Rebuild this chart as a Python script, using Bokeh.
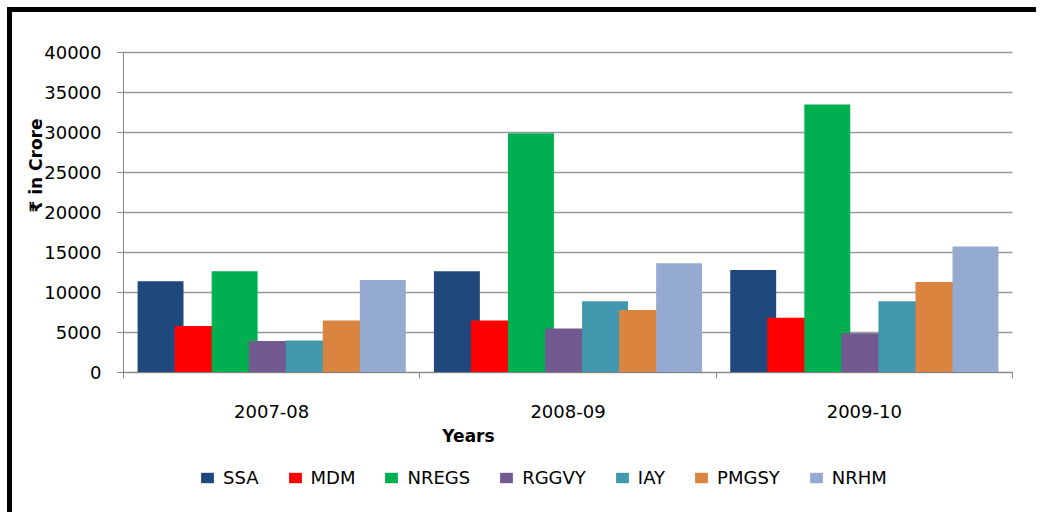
import math
from bokeh.plotting import figure
from bokeh.models import (ColumnDataSource, Range1d, LinearAxis,
                          FixedTicker, Label, Legend, LegendItem)
from bokeh.transform import dodge
from bokeh.embed import file_html
from bokeh.resources import INLINE

# ---- data ----
years = ["2007-08", "2008-09", "2009-10"]
SSA = [11400, 12650, 12800]
MDM = [5800, 6500, 6850]
NREGS = [12650, 29900, 33500]
RGGVY = [3950, 5500, 4900]
IAY = [4000, 8900, 8900]
PMGSY = [6500, 7800, 11300]
NRHM = [11550, 13650, 15750]
series_names = ["SSA", "MDM", "NREGS", "RGGVY", "IAY", "PMGSY", "NRHM"]
y_ticks = [0, 5000, 10000, 15000, 20000, 25000, 30000, 35000, 40000]

colors = ["#1F497D", "#FF0000", "#00B050", "#725990", "#4298AF", "#DA8440", "#95AAD0"]

FONT = "DejaVu Sans"
GRID = "#9a9a9a"
AX = "#868686"

# ---- layout (page pixels) ----
W, H = 1029, 505
OX, OY = 12, 12                      # canvas origin on the page (margin + border)
PL, PR, PT, PB = 123, 1012, 52, 372  # plot-area edges on the page
NCAT = len(years)
YMAX = y_ticks[-1]
px_x = (PR - PL) / NCAT              # pixels per category
px_y = (PB - PT) / YMAX              # pixels per unit value


def dx(px):
    return (px - PL) / px_x


def dy(py):
    return (PB - py) / px_y


centres = [i + 0.5 for i in range(NCAT)]
bounds = list(range(NCAT + 1))
src = ColumnDataSource(dict(xc=centres, year=years, SSA=SSA, MDM=MDM, NREGS=NREGS,
                            RGGVY=RGGVY, IAY=IAY, PMGSY=PMGSY, NRHM=NRHM))

p = figure(x_range=Range1d(dx(OX), dx(OX + W)), y_range=Range1d(dy(OY + H), dy(OY)),
           width=W, height=H, output_backend="svg", toolbar_location=None,
           x_axis_location=None, y_axis_location=None,
           min_border_left=0, min_border_right=0, min_border_top=0, min_border_bottom=0)
p.outline_line_color = None
p.background_fill_color = "white"
p.border_fill_color = "white"
p.grid.visible = False
p.styles = {"margin-top": "7px", "margin-left": "7px",
            "border-top": "5px solid black", "border-left": "5px solid black"}

# horizontal gridlines across the plot area
p.segment(x0=[0] * len(y_ticks), x1=[NCAT] * len(y_ticks), y0=y_ticks, y1=y_ticks,
          line_color=GRID, line_width=1.5)

step = 0.125
bw = 0.155
items = []
for i, (name, c) in enumerate(zip(series_names, colors)):
    r = p.vbar(x=dodge("xc", (i - 3) * step), top=name, width=bw,
               source=src, fill_color=c, line_color=None)
    items.append(LegendItem(label=name, renderers=[r]))

# y axis
ya = LinearAxis(fixed_location=0, bounds=(0, YMAX), ticker=FixedTicker(ticks=y_ticks))
ya.axis_line_color = AX
ya.major_tick_line_color = AX
ya.major_tick_out = 6
ya.major_tick_in = 0
ya.minor_tick_line_color = None
ya.major_label_text_font = FONT
ya.major_label_text_font_size = "18px"
ya.major_label_text_color = "black"
ya.major_label_standoff = 16
p.add_layout(ya, "left")

# x axis: category boundaries as minor ticks, category names at centres
xa = LinearAxis(fixed_location=0, bounds=(0, NCAT),
                ticker=FixedTicker(ticks=centres, minor_ticks=bounds))
xa.major_label_overrides = {c: y for c, y in zip(centres, years)}
xa.axis_line_color = AX
xa.major_tick_line_color = None
xa.major_tick_out = 6
xa.major_tick_in = 0
xa.minor_tick_line_color = AX
xa.minor_tick_out = 6
xa.minor_tick_in = 0
xa.major_label_text_font = FONT
xa.major_label_text_font_size = "18px"
xa.major_label_text_color = "black"
xa.major_label_standoff = 26
p.add_layout(xa, "below")

# axis titles
p.add_layout(Label(x=dx(35), y=dy(165), text="\u20b9 in Crore", angle=math.pi / 2,
                   text_align="center", text_baseline="middle",
                   text_font=FONT, text_font_style="bold", text_font_size="17px",
                   text_color="black"))
p.add_layout(Label(x=dx(468), y=dy(435), text="Years",
                   text_align="center", text_baseline="middle",
                   text_font=FONT, text_font_style="bold", text_font_size="17px",
                   text_color="black"))

legend = Legend(items=items, orientation="horizontal", location=(199 - OX, OY + H - 488),
                glyph_width=16, glyph_height=13, label_standoff=8, spacing=28,
                padding=0, margin=0, border_line_color=None, background_fill_alpha=0,
                label_text_font=FONT, label_text_font_size="18px", label_height=20,
                label_text_color="black")
p.add_layout(legend)

open("out.html", "w").write(file_html(p, INLINE))
